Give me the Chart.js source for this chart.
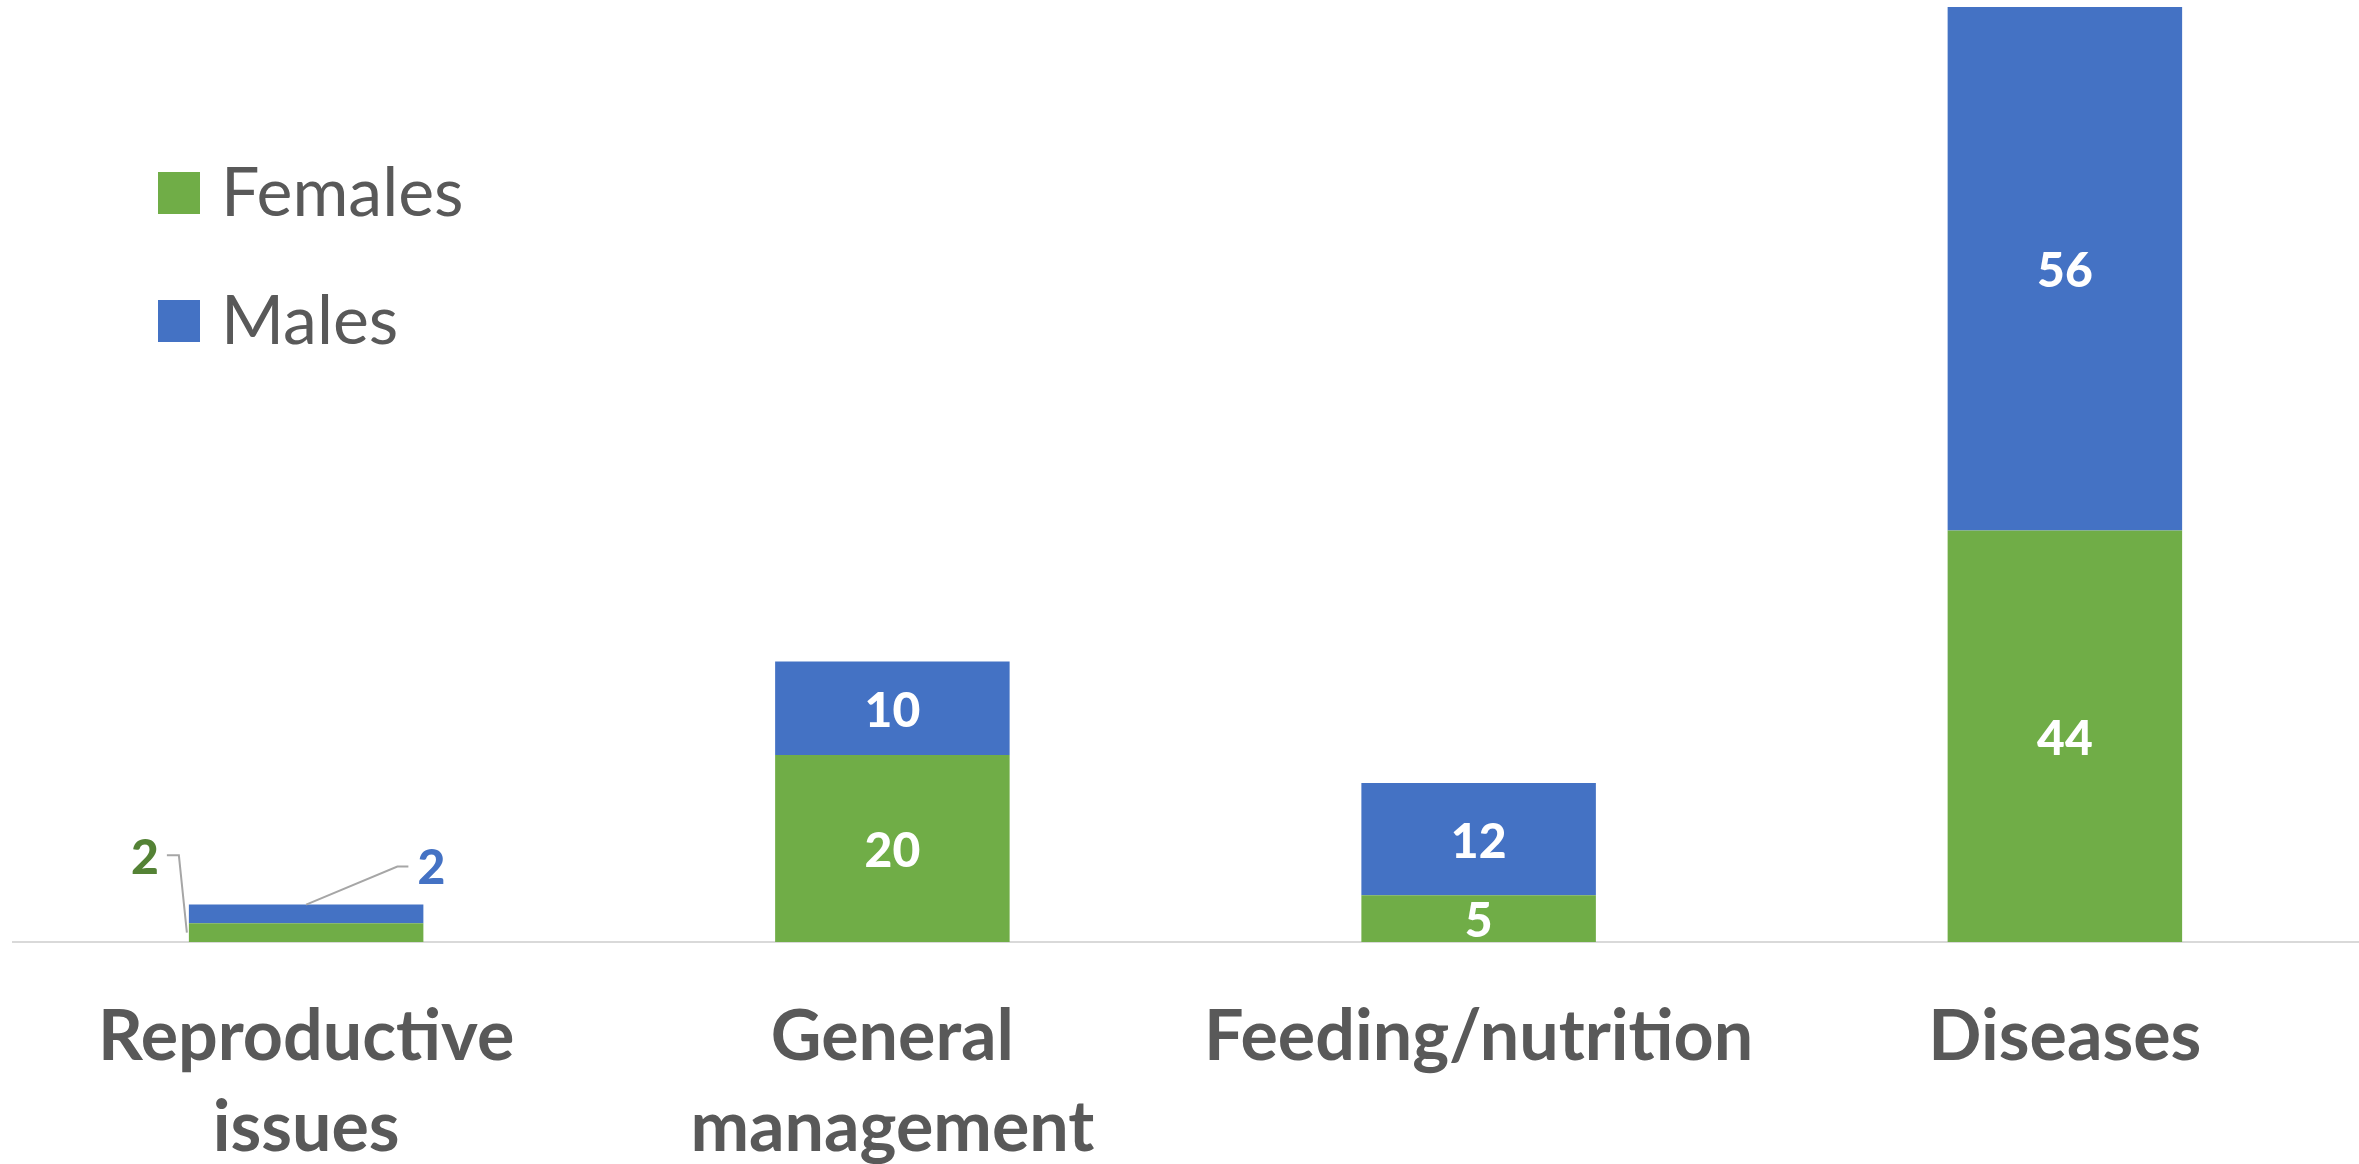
<!DOCTYPE html>
<html>
<head>
<meta charset="utf-8">
<script src="https://cdn.jsdelivr.net/npm/chart.js@4.4.0/dist/chart.umd.min.js"></script>
<style>
body{margin:0;background:#fff;}
#wrap{width:2359px;height:1164px;position:relative;}
</style>
</head>
<body>
<div id="wrap"><canvas id="myChart"></canvas></div>
<script>
'use strict';
let categories=[['Reproductive','issues'],['General','management'],'Feeding/nutrition','Diseases'];
let femaleValues=[2,20,5,44];
let maleValues=[2,10,12,56];
let seriesNames=['Females','Males'];
let yMin=0;
let yMax=100;

let barColors=['#70ad47','#4472c4'];
let outsideColors=['#548235','#4472c4'];
let fontName='Lato, "Open Sans", sans-serif';

// labels inside the segments, small ones get a callout line
let valueLabels={
    id:'valueLabels',
    afterDatasetsDraw(chart){
        let ctx=chart.ctx;
        ctx.save();
        ctx.font='900 48px '+fontName;
        ctx.textAlign='center';
        ctx.textBaseline='middle';
        chart.data.datasets.forEach(function(ds,i){
            let meta=chart.getDatasetMeta(i);
            meta.data.forEach(function(bar,j){
                let v=ds.data[j];
                let h=Math.abs(bar.base-bar.y);
                let mid=(bar.y+bar.base)/2;
                let left=bar.x-bar.width/2;
                let right=bar.x+bar.width/2;
                if(h>40){
                    ctx.fillStyle='#ffffff';
                    ctx.fillText(v,bar.x,mid+3);
                    return;
                }
                ctx.strokeStyle='#a6a6a6';
                ctx.lineWidth=2;
                ctx.beginPath();
                if(i===0){
                    let ly=bar.y-68;
                    ctx.moveTo(left-22,ly);
                    ctx.lineTo(left-10,ly);
                    ctx.lineTo(left-2,mid);
                    ctx.stroke();
                    ctx.fillStyle=outsideColors[i];
                    ctx.fillText(v,left-44,ly+3);
                }else{
                    let ly=bar.y-38;
                    ctx.moveTo(bar.x,bar.y);
                    ctx.lineTo(right-26,ly);
                    ctx.lineTo(right-15,ly);
                    ctx.stroke();
                    ctx.fillStyle=outsideColors[i];
                    ctx.fillText(v,right+8,ly+2);
                }
            });
        });
        ctx.restore();
    }
};

let boxLegend={
    id:'boxLegend',
    afterDraw(chart){
        let ctx=chart.ctx;
        ctx.save();
        ctx.font='68px '+fontName;
        ctx.textAlign='left';
        ctx.textBaseline='alphabetic';
        chart.data.datasets.forEach(function(ds,i){
            let top=172+i*128;
            ctx.fillStyle=ds.backgroundColor;
            ctx.fillRect(158,top,42,42);
            ctx.fillStyle='#595959';
            ctx.fillText(ds.label,221,top+44);
        });
        ctx.restore();
    }
};

let ctx=document.getElementById('myChart').getContext('2d');
let myChart=new Chart(ctx,{
    type:'bar',
    data:{
        labels:categories,
        datasets:[{
            label:seriesNames[0],
            data:femaleValues,
            backgroundColor:barColors[0],
            borderWidth:0
        },{
            label:seriesNames[1],
            data:maleValues,
            backgroundColor:barColors[1],
            borderWidth:0
        }]
    },
    options:{
        responsive:true,
        maintainAspectRatio:false,
        devicePixelRatio:1,
        animation:false,
        categoryPercentage:0.8,
        barPercentage:0.5,
        layout:{padding:{left:13,right:1,top:7,bottom:0}},
        plugins:{
            legend:{display:false},
            tooltip:{enabled:false}
        },
        scales:{
            x:{
                stacked:true,
                grid:{display:false,drawTicks:false},
                border:{display:true,color:'#d9d9d9',width:2},
                ticks:{
                    color:'#595959',
                    padding:50,
                    maxRotation:0,
                    autoSkip:false,
                    font:{family:fontName,size:70,weight:'bold',lineHeight:1.3}
                },
                afterFit:function(scale){scale.height=222;}
            },
            y:{
                stacked:true,
                display:false,
                min:yMin,
                max:yMax
            }
        }
    },
    plugins:[valueLabels,boxLegend]
});
</script>
</body>
</html>
